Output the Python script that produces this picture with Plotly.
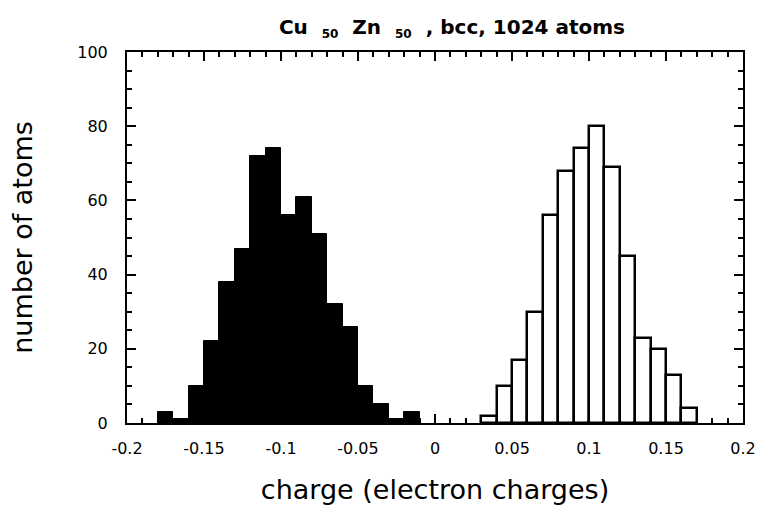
import plotly.graph_objects as go

# ---- data ----
bin_width = 0.01
cu_bin_starts = [-0.18, -0.17, -0.16, -0.15, -0.14, -0.13, -0.12, -0.11, -0.10,
                 -0.09, -0.08, -0.07, -0.06, -0.05, -0.04, -0.03, -0.02]
cu_counts = [3, 1, 10, 22, 38, 47, 72, 74, 56, 61, 51, 32, 26, 10, 5, 1, 3]

zn_bin_starts = [0.03, 0.04, 0.05, 0.06, 0.07, 0.08, 0.09, 0.10, 0.11,
                 0.12, 0.13, 0.14, 0.15, 0.16]
zn_counts = [2, 10, 17, 30, 56, 68, 74, 80, 69, 45, 23, 20, 13, 4]

x_tick_vals = [-0.2, -0.15, -0.1, -0.05, 0, 0.05, 0.1, 0.15, 0.2]
x_tick_text = ["-0.2", "-0.15", "-0.1", "-0.05", "0", "0.05", "0.1", "0.15", "0.2"]
y_tick_vals = [0, 20, 40, 60, 80, 100]
y_tick_text = ["0", "20", "40", "60", "80", "100"]

FONT = "DejaVu Sans"

cu_centers = [s + bin_width / 2 for s in cu_bin_starts]
zn_centers = [s + bin_width / 2 for s in zn_bin_starts]

fig = go.Figure()
fig.add_trace(go.Bar(
    x=cu_centers, y=cu_counts, width=[bin_width] * len(cu_centers),
    marker=dict(color="black", line=dict(color="black", width=1)),
    name="Cu", showlegend=False,
))
fig.add_trace(go.Bar(
    x=zn_centers, y=zn_counts, width=[bin_width] * len(zn_centers),
    marker=dict(color="white", line=dict(color="black", width=2.5)),
    name="Zn", showlegend=False,
))

axis_common = dict(
    showline=True, linecolor="black", linewidth=2, mirror="ticks",
    ticks="inside", tickcolor="black", tickwidth=2, ticklen=9,
    showgrid=False, zeroline=False,
    tickfont=dict(family=FONT, size=16, color="black"),
)

fig.update_xaxes(
    range=[-0.2, 0.2], tickmode="array", tickvals=x_tick_vals, ticktext=x_tick_text,
    minor=dict(ticks="inside", ticklen=5, tickwidth=2, tickcolor="black",
               tickmode="linear", tick0=0, dtick=0.01, showgrid=False),
    ticklabelstandoff=10,
    title=dict(text="charge (electron charges)", font=dict(family=FONT, size=27, color="black"),
               standoff=23),
    **axis_common,
)
fig.update_yaxes(
    range=[0, 100], tickmode="array", tickvals=y_tick_vals, ticktext=y_tick_text,
    minor=dict(ticks="inside", ticklen=5, tickwidth=2, tickcolor="black",
               tickmode="linear", tick0=0, dtick=5, showgrid=False),
    ticklabelstandoff=14,
    title=dict(text="number of atoms", font=dict(family=FONT, size=27, color="black"),
               standoff=37),
    **axis_common,
)

fig.update_layout(
    width=757, height=505,
    margin=dict(l=127, r=14, t=52, b=82, autoexpand=False),
    paper_bgcolor="white", plot_bgcolor="white",
    bargap=0,
    title=dict(
        text=("<b>Cu  <sub><span style='font-size:12px'>50</span></sub>  Zn  "
              "<sub><span style='font-size:12px'>50</span></sub>  , bcc, 1024 atoms</b>"),
        x=0.597, xanchor="center", y=0.9465, yanchor="middle",
        font=dict(family=FONT, size=20, color="black"),
    ),
)

fig.write_html(
    "out.html",
    config={"displayModeBar": False},
    post_script="document.body.style.margin='0';document.body.style.overflow='hidden';",
)
